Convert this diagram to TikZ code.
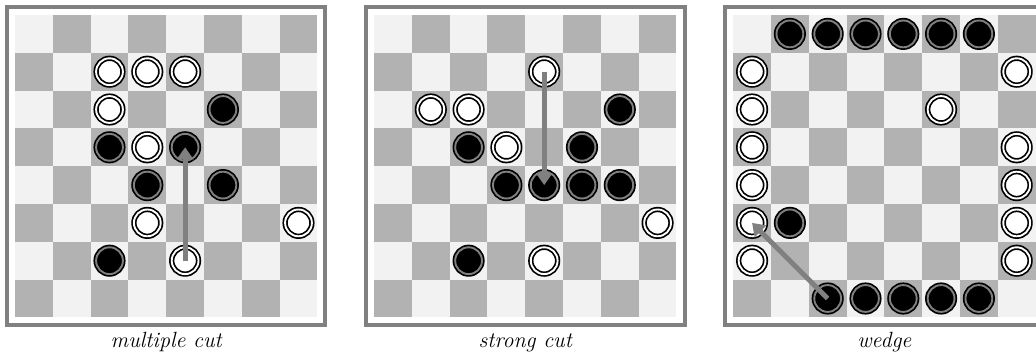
\documentclass[tikz,border=0pt]{standalone}
\usepackage{tikz}
\usetikzlibrary{arrows.meta}
\definecolor{lightsq}{gray}{0.95}
\definecolor{darksq}{gray}{0.70}
\definecolor{rim}{gray}{0.5}
\tikzset{
  board/.pic={
    \fill [lightsq] (0,0) rectangle (8,8);
    \foreach \i in {0,...,7}
      \foreach \j in {0,...,7}
        {\ifodd\numexpr\i+\j\relax\else\fill [darksq] (\i,\j) rectangle ++(1,1);\fi}
    \draw [rim, line width=2pt] (-.212,-.212) rectangle (8.212,8.212);
  }
}
\begin{document}
\begin{tikzpicture}[x=18.9pt,y=18.9pt,
    white stone/.style={circle,draw=black,double=white,double distance=0.95pt,
      line width=0.85pt,fill=white,minimum size=13.4pt,inner sep=0pt},
    black stone/.style={circle,draw=black,double=rim,double distance=0.95pt,
      line width=0.85pt,fill=black,minimum size=13.4pt,inner sep=0pt},
    move/.style={rim,line width=2.5pt,-{Triangle[width=8pt,length=6pt]}},
    caption/.style={font=\fontsize{11}{13}\selectfont\itshape,anchor=base} ]
    \useasboundingbox (-.397,-1.127) rectangle (27.011,8.397);
    % multiple cut
    \pic at (0,0) {board};
    \foreach \c/\r in {2/1,3/1,4/1,2/2,3/3,3/5,7/5,4/6}
      \node [white stone] (m\c\r) at (\c+.5,7.5-\r) {};
    \foreach \c/\r in {5/2,2/3,4/3,3/4,5/4,2/6}
      \node [black stone] (m\c\r) at (\c+.5,7.5-\r) {};
    \draw [move] (m46.center) -- (m43.center);
    \node [caption] (mcap) at (4,-.8) {multiple cut};
    % strong cut
    \begin{scope}[shift={(9.5,0)}]
    \pic at (0,0) {board};
    \foreach \c/\r in {4/1,1/2,2/2,3/3,7/5,4/6}
      \node [white stone] (s\c\r) at (\c+.5,7.5-\r) {};
    \foreach \c/\r in {6/2,2/3,5/3,3/4,4/4,5/4,6/4,2/6}
      \node [black stone] (s\c\r) at (\c+.5,7.5-\r) {};
    \draw [move] (s41.center) -- (s44.center);
    \node [caption] (scap) at (4,-.8) {strong cut};
    \end{scope}
    % wedge
    \begin{scope}[shift={(19,0)}]
    \pic at (0,0) {board};
    \foreach \c/\r in {0/1,0/2,0/3,0/4,0/5,0/6,7/1,5/2,7/3,7/4,7/5,7/6}
      \node [white stone] (w\c\r) at (\c+.5,7.5-\r) {};
    \foreach \c/\r in {1/0,2/0,3/0,4/0,5/0,6/0,1/5,2/7,3/7,4/7,5/7,6/7}
      \node [black stone] (w\c\r) at (\c+.5,7.5-\r) {};
    \draw [move] (w27.center) -- (w05.center);
    \node [caption] (wcap) at (4,-.8) {wedge};
    \end{scope}
\end{tikzpicture}
\end{document}
